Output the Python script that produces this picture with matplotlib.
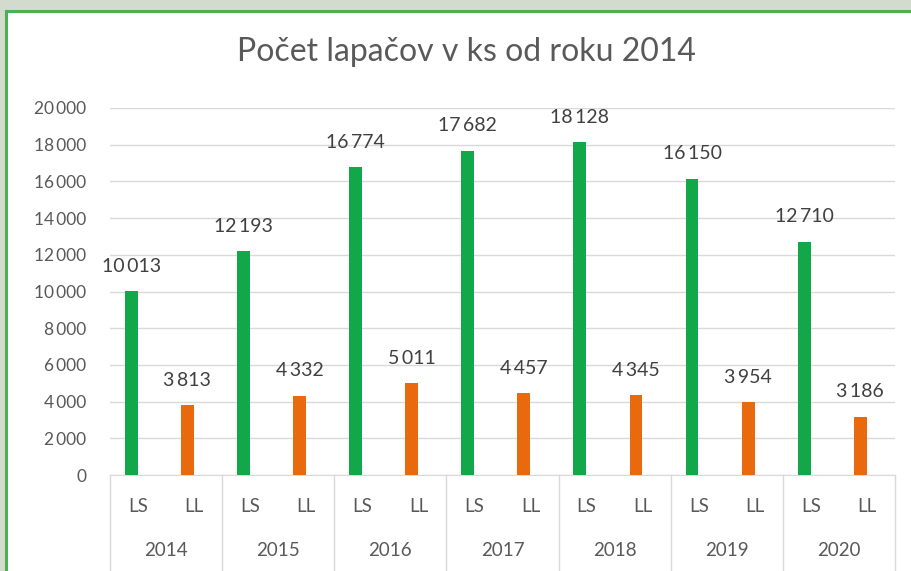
import numpy as np
import matplotlib.pyplot as plt
from matplotlib.patches import Rectangle
from matplotlib.transforms import blended_transform_factory

years = ["2014", "2015", "2016", "2017", "2018", "2019", "2020"]
series = ["LS", "LL"]
ls_values = [10013, 12193, 16774, 17682, 18128, 16150, 12710]
ll_values = [3813, 4332, 5011, 4457, 4345, 3954, 3186]
yticks = list(range(0, 20001, 2000))

GREEN = "#12a84a"
ORANGE = "#e8690e"
TXT = "#595959"
plt.rcParams["font.family"] = ["Lato", "DejaVu Sans"]


def fmt(v):
    s = f"{v:,}"
    return s.replace(",", "\u2009")


fig = plt.figure(figsize=(9.12, 5.71), dpi=100, facecolor="#d3dbcf")
# white panel with green frame
fig.patches.append(Rectangle((6 / 912, -0.05), 1.0, 1 - 11 / 571 + 0.05,
                             transform=fig.transFigure, facecolor="white",
                             edgecolor="#4cb050", linewidth=2.2, zorder=-5))

ax = fig.add_axes([110 / 912, 1 - 475 / 571, (895 - 110) / 912, 367 / 571])
ax.set_facecolor("none")

x = np.arange(len(years) * 2)
vals = []
for a, b in zip(ls_values, ll_values):
    vals += [a, b]
colors = [GREEN, ORANGE] * len(years)
off = -0.12
ax.bar(x + off, vals, width=0.23, color=colors, zorder=3)
for xi, v in zip(x, vals):
    ax.annotate(fmt(v), (xi + off, v), xytext=(0, 18), textcoords="offset points",
                ha="center", va="center", fontsize=14, color="#404040")

ax.set_xlim(-0.5, len(x) - 0.5)
ax.set_ylim(0, 20000)
ax.set_yticks(yticks)
ax.set_yticklabels([fmt(t) for t in yticks], fontsize=12.5, color=TXT)
ax.tick_params(axis="y", length=0, pad=17)
ax.grid(axis="y", color="#d9d9d9", linewidth=1, zorder=0)
for s in ["top", "right", "left"]:
    ax.spines[s].set_visible(False)
ax.spines["bottom"].set_color("#d9d9d9")
ax.set_xticks([])

# two-level category axis
tr = blended_transform_factory(ax.transData, ax.transAxes)
for i, xi in enumerate(x):
    ax.text(xi, -0.085, series[i % 2], transform=tr, ha="center", va="center",
            fontsize=13.5, color=TXT)
for g, yr in enumerate(years):
    ax.text(2 * g + 0.5, -0.205, yr, transform=tr, ha="center", va="center",
            fontsize=13.5, color=TXT)
for g in range(len(years) + 1):
    ax.plot([2 * g - 0.5] * 2, [0, -0.27], transform=tr, color="#d9d9d9",
            linewidth=1, clip_on=False)

fig.text(466 / 912, 1 - 52 / 571, "Počet lapačov v ks od roku 2014",
         ha="center", va="center", fontsize=23, color=TXT)

fig.savefig("out.png", dpi=100, facecolor=fig.get_facecolor())
